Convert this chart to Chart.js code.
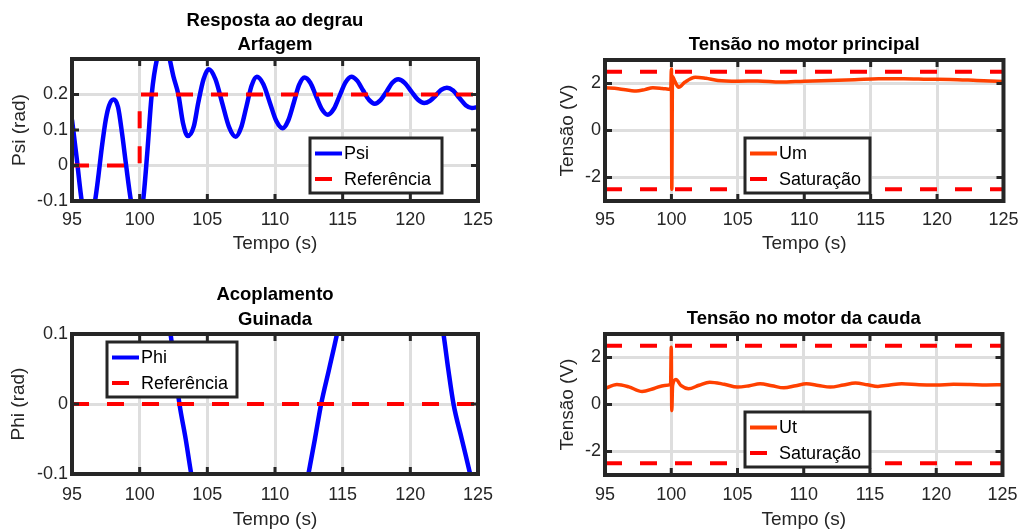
<!DOCTYPE html>
<html><head><meta charset="utf-8">
<script src="https://cdn.jsdelivr.net/npm/chart.js@4.4.1/dist/chart.umd.min.js"></script>
<style>
html,body{margin:0;padding:0;background:#fff;width:1027px;height:531px;overflow:hidden}
canvas{position:absolute}
</style></head><body>
<canvas id="c1" width="513" height="265" style="left:0;top:0"></canvas>
<canvas id="c2" width="497" height="265" style="left:530px;top:0"></canvas>
<canvas id="c3" width="513" height="266" style="left:0;top:265px"></canvas>
<canvas id="c4" width="497" height="266" style="left:530px;top:265px"></canvas>
<script>
// ---------- data ----------
const xTicks = [95, 100, 105, 110, 115, 120, 125];
const psiTicks = [-0.1, 0, 0.1, 0.2];
const phiTicks = [-0.1, 0, 0.1];
const voltTicks = [-2, 0, 2];

const psiTime = [95.0, 95.35, 95.72, 96.21, 96.7, 96.95, 97.2, 97.5, 97.75, 98.07, 98.4, 98.7, 99.0, 99.36, 99.8, 100.25, 100.55, 100.89, 101.28, 101.8, 102.15, 102.5, 102.86, 103.2, 103.56,
  104.0, 104.33, 104.72, 105.1, 105.6, 106.1, 106.6, 107.1, 107.49, 107.88, 108.27, 108.66, 109.14, 109.62, 110.09, 110.57,
  110.97, 111.38, 111.78, 112.18, 112.61, 113.04, 113.47, 113.9, 114.34, 114.77, 115.21, 115.64, 116.07, 116.5, 116.94, 117.37,
  117.8, 118.24, 118.67, 119.1, 119.58, 120.07, 120.55, 121.03, 121.45, 121.87, 122.28, 122.7, 123.16, 123.63, 124.09, 124.55, 125.0];
const psiValues = [0.129, 0.02, -0.1, -0.18, -0.1, -0.03, 0.05, 0.13, 0.17, 0.186, 0.165, 0.09, 0.0, -0.1, -0.17, -0.1, 0.03, 0.2, 0.3, 0.345, 0.31, 0.25, 0.2, 0.12, 0.083,
  0.11, 0.177, 0.243, 0.271, 0.243, 0.176, 0.109, 0.081, 0.106, 0.165, 0.225, 0.25, 0.229, 0.177, 0.126, 0.105,
  0.126, 0.176, 0.227, 0.248, 0.233, 0.195, 0.158, 0.143, 0.159, 0.196, 0.234, 0.25, 0.239, 0.212, 0.185, 0.174,
  0.184, 0.208, 0.233, 0.243, 0.233, 0.209, 0.186, 0.176, 0.182, 0.197, 0.213, 0.219, 0.211, 0.19, 0.17, 0.162, 0.165];
const psiRefTime = [95, 100, 100, 125];
const psiRefValues = [0, 0, 0.2, 0.2];

const phiTime = [95, 97.5, 100, 101.2, 102.28, 102.6, 102.94, 103.4, 103.81, 105, 107.5, 110, 111.5, 112.47, 112.95, 113.41, 114.0, 114.58, 116, 118.5, 120.5, 121.6, 122.45, 122.8, 123.19, 123.8, 124.42, 125];
const phiValues = [0.3, 0.42, 0.33, 0.2, 0.1, 0.05, 0.0, -0.05, -0.1, -0.22, -0.38, -0.32, -0.2, -0.1, -0.05, 0.0, 0.05, 0.1, 0.24, 0.36, 0.3, 0.2, 0.1, 0.05, 0.0, -0.05, -0.1, -0.15];
const phiRefTime = [95, 125];
const phiRefValues = [0, 0];

const umTime = [95.0, 96.0, 97.35, 98.0, 98.6, 99.3, 99.95, 100.0, 100.03, 100.08, 100.25, 100.55, 101.0, 101.8, 102.6, 103.5, 105.0, 106.5, 108.2, 110.0, 111.9, 113.8, 115.6, 117.5, 119.3, 121.0, 123.0, 125.0];
const umValues = [1.82, 1.78, 1.68, 1.74, 1.82, 1.79, 1.75, 2.62, -2.5, 2.3, 2.1, 1.84, 2.05, 2.27, 2.22, 2.13, 2.1, 2.11, 2.06, 2.1, 2.13, 2.16, 2.2, 2.2, 2.18, 2.17, 2.13, 2.09];

const utTime = [95.0, 95.9, 96.8, 97.8, 98.7, 99.5, 99.95, 100.0, 100.04, 100.1, 100.35, 100.75, 101.3, 102.1, 102.9, 104.0, 105.0, 105.9, 106.7, 107.6, 108.5, 109.4, 110.2, 111.1, 112.0, 113.0, 113.9, 114.8, 115.6, 116.5, 117.4, 118.7, 120.0, 121.3, 122.5, 123.8, 125.0];
const utValues = [0.68, 0.85, 0.75, 0.55, 0.68, 0.81, 0.85, 2.44, -0.26, 0.8, 1.06, 0.8, 0.67, 0.82, 0.95, 0.86, 0.74, 0.8, 0.88, 0.8, 0.71, 0.8, 0.88, 0.81, 0.74, 0.83, 0.91, 0.84, 0.77, 0.83, 0.88, 0.84, 0.83, 0.86, 0.85, 0.83, 0.84];

const satTime = [95, 125];
const satUpper = [2.5, 2.5];
const satLower = [-2.5, -2.5];

// ---------- styling ----------
const FONT = '"Liberation Sans", Arial, Helvetica, sans-serif';
Chart.defaults.font.family = FONT;
const BLUE = '#0000ff', RED = '#ff0000', ORANGE = '#ff4000';
const DASH = [17, 18];
const pts = (xs, ys) => xs.map((x, i) => ({x: x, y: ys[i]}));

function solid(label, xs, ys, color, w, order) {
  return {label, data: pts(xs, ys), borderColor: color, borderWidth: w, pointRadius: 0,
    cubicInterpolationMode: 'monotone', fill: false, order};
}
function dashed(label, xs, ys, order) {
  return {label, data: pts(xs, ys), borderColor: RED, borderWidth: 4, borderDash: DASH, pointRadius: 0,
    tension: 0, fill: false, borderCapStyle: 'butt', order};
}

function makePlugin(cfg) {
  return {
    id: 'matlab',
    afterDraw(chart) {
      const {ctx, chartArea: a, scales} = chart;
      ctx.save();
      ctx.strokeStyle = '#262626'; ctx.lineWidth = 3; ctx.lineCap = 'butt'; ctx.setLineDash([]);
      const tl = 7;
      const ln = (x1, y1, x2, y2) => { ctx.beginPath(); ctx.moveTo(x1, y1); ctx.lineTo(x2, y2); ctx.stroke(); };
      scales.x.ticks.forEach(t => { const p = scales.x.getPixelForValue(t.value); ln(p, a.top, p, a.top + tl); ln(p, a.bottom, p, a.bottom - tl); });
      scales.y.ticks.forEach(t => { const p = scales.y.getPixelForValue(t.value); ln(a.left, p, a.left + tl, p); ln(a.right, p, a.right - tl, p); });
      ctx.lineWidth = 4;
      ctx.strokeRect(a.left, a.top, a.right - a.left, a.bottom - a.top);
      const L = cfg.legend;
      ctx.fillStyle = '#ffffff';
      ctx.fillRect(L.x, L.y, L.w, L.h);
      ctx.lineWidth = 3; ctx.strokeStyle = '#262626';
      ctx.strokeRect(L.x, L.y, L.w, L.h);
      L.items.forEach((it, i) => {
        const yy = L.y + 15.5 + i * 25.5;
        ctx.save();
        ctx.strokeStyle = it.color; ctx.lineWidth = it.width; ctx.setLineDash(it.dash || []);
        ln(L.x + 5, yy, L.x + 32, yy);
        ctx.restore();
        ctx.fillStyle = '#000000';
        ctx.font = '18px ' + FONT;
        ctx.textAlign = 'left'; ctx.textBaseline = 'middle';
        ctx.fillText(it.label, L.x + 34, yy + 1);
      });
      ctx.fillStyle = '#000000';
      ctx.font = 'bold 18.5px ' + FONT;
      ctx.textAlign = 'center'; ctx.textBaseline = 'middle';
      cfg.titles.forEach(t => ctx.fillText(t.text, (a.left + a.right) / 2, t.y));
      ctx.restore();
    }
  };
}

function makeChart(id, cfg) {
  const cv = document.getElementById(id);
  const W = cv.width, H = cv.height, a = cfg.area;
  return new Chart(cv, {
    type: 'line',
    data: {datasets: cfg.datasets},
    options: {
      responsive: false, animation: false, devicePixelRatio: 1,
      layout: {padding: {left: 0, top: a.top, right: W - a.right, bottom: 0}},
      plugins: {legend: {display: false}, tooltip: {enabled: false}, title: {display: false}},
      scales: {
        x: {
          type: 'linear', min: 95, max: 125,
          afterBuildTicks: s => { s.ticks = xTicks.map(v => ({value: v})); },
          afterFit: s => { s.height = H - a.bottom; },
          ticks: {font: {size: 18}, color: '#262626', padding: cfg.xTickPad, maxRotation: 0, autoSkip: false, callback: v => String(v)},
          grid: {color: '#dedede', lineWidth: 3, drawTicks: false},
          border: {display: false},
          title: {display: true, text: 'Tempo (s)', font: {size: 19}, color: '#262626', padding: {top: 0, bottom: cfg.xTitlePad}}
        },
        y: {
          type: 'linear', min: cfg.yMin, max: cfg.yMax,
          afterBuildTicks: s => { s.ticks = cfg.yTicks.map(v => ({value: v})); },
          afterFit: s => { s.width = a.left; },
          ticks: {font: {size: 18}, color: '#262626', padding: 4, autoSkip: false, callback: v => String(v)},
          grid: {color: '#dedede', lineWidth: 3, drawTicks: false},
          border: {display: false},
          title: {display: true, text: cfg.yTitle, font: {size: 19}, color: '#262626', padding: {top: cfg.yTitlePad, bottom: 0}}
        }
      }
    },
    plugins: [makePlugin(cfg)]
  });
}

makeChart('c1', {
  area: {left: 72, top: 59, right: 478, bottom: 201},
  yMin: -0.1, yMax: 0.3, yTicks: psiTicks, yTitle: 'Psi (rad)', yTitlePad: 8.5,
  xTickPad: 8.5, xTitlePad: 9.5,
  titles: [{text: 'Resposta ao degrau', y: 21}, {text: 'Arfagem', y: 45}],
  legend: {x: 310, y: 138, w: 132, h: 55, items: [
    {label: 'Psi', color: BLUE, width: 4}, {label: 'Referência', color: RED, width: 4, dash: DASH}]},
  datasets: [solid('Psi', psiTime, psiValues, BLUE, 4.5, 1), dashed('Referência', psiRefTime, psiRefValues, 0)]
});

makeChart('c2', {
  area: {left: 75, top: 60, right: 480, bottom: 201},
  yMin: -3, yMax: 3, yTicks: voltTicks, yTitle: 'Tensão (V)', yTitlePad: 26,
  xTickPad: 8.5, xTitlePad: 9.5,
  titles: [{text: 'Tensão no motor principal', y: 44.5}],
  legend: {x: 215, y: 138, w: 125, h: 55, items: [
    {label: 'Um', color: ORANGE, width: 4}, {label: 'Saturação', color: RED, width: 4, dash: DASH}]},
  datasets: [solid('Um', umTime, umValues, ORANGE, 3.5, 2), dashed('Saturação', satTime, satUpper, 1), dashed('', satTime, satLower, 0)]
});

makeChart('c3', {
  area: {left: 72, top: 69, right: 478, bottom: 209},
  yMin: -0.1, yMax: 0.1, yTicks: phiTicks, yTitle: 'Phi (rad)', yTitlePad: 7.5,
  xTickPad: 10, xTitlePad: 0,
  titles: [{text: 'Acoplamento', y: 30}, {text: 'Guinada', y: 55}],
  legend: {x: 107, y: 77, w: 130, h: 55, items: [
    {label: 'Phi', color: BLUE, width: 4}, {label: 'Referência', color: RED, width: 4, dash: DASH}]},
  datasets: [solid('Phi', phiTime, phiValues, BLUE, 4.5, 1), dashed('Referência', phiRefTime, phiRefValues, 0)]
});

makeChart('c4', {
  area: {left: 75, top: 69, right: 480, bottom: 210},
  yMin: -3, yMax: 3, yTicks: voltTicks, yTitle: 'Tensão (V)', yTitlePad: 26,
  xTickPad: 9.5, xTitlePad: 0,
  titles: [{text: 'Tensão no motor da cauda', y: 54}],
  legend: {x: 215, y: 147, w: 125, h: 55, items: [
    {label: 'Ut', color: ORANGE, width: 4}, {label: 'Saturação', color: RED, width: 4, dash: DASH}]},
  datasets: [solid('Ut', utTime, utValues, ORANGE, 3.5, 2), dashed('Saturação', satTime, satUpper, 1), dashed('', satTime, satLower, 0)]
});
</script>
</body></html>
